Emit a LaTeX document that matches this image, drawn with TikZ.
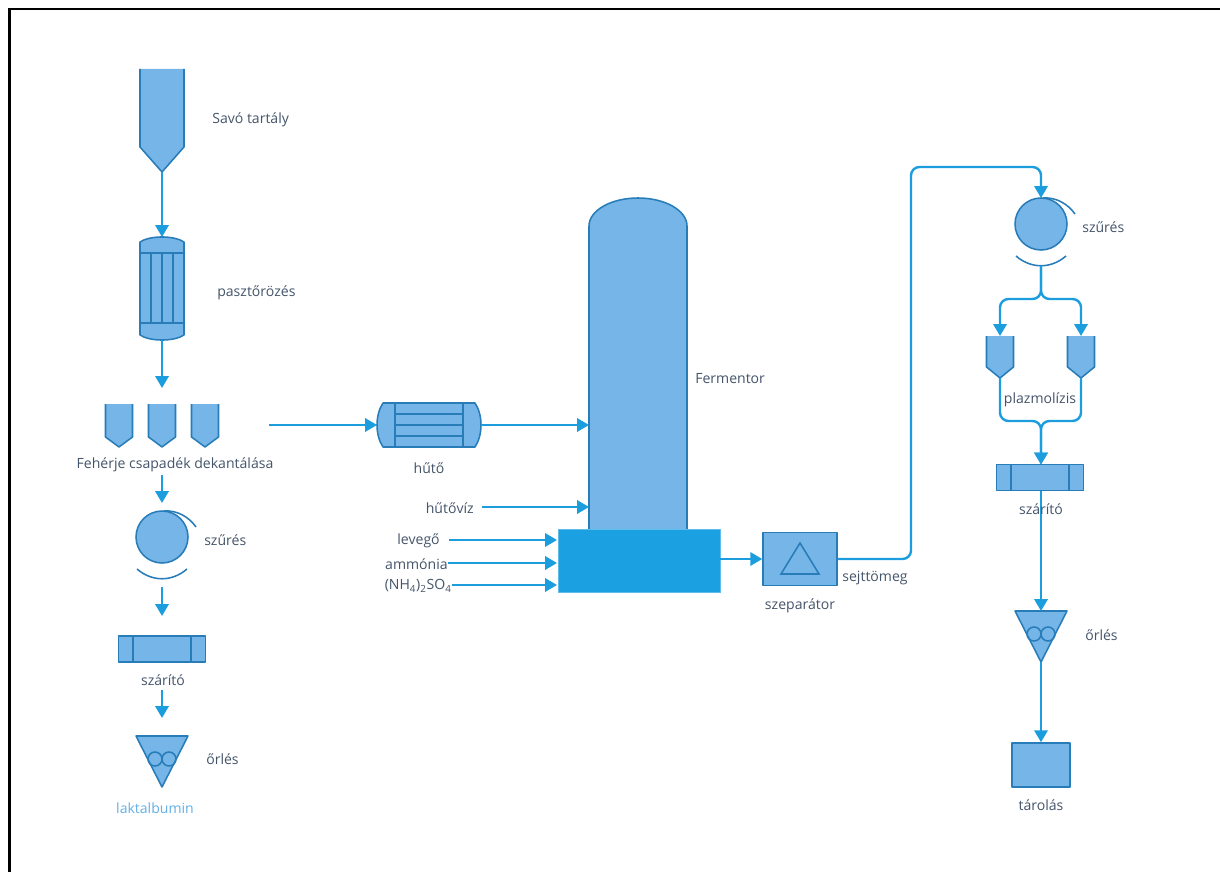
\documentclass[tikz,border=0pt]{standalone}
\usepackage{fontspec}
\usepackage{tikz}
\usetikzlibrary{arrows.meta,positioning}
\setmainfont{Open Sans}
\definecolor{pipe}{RGB}{27,157,222}
\definecolor{vessel}{RGB}{117,181,232}
\definecolor{edge}{RGB}{40,125,185}
\definecolor{deep}{RGB}{27,160,226}
\definecolor{ink}{RGB}{68,84,106}
\tikzset{
  flow/.style={-{Triangle[length=8.5pt,width=9.5pt]},line width=1.7pt,draw=pipe,rounded corners=6pt},
  tag/.style={font=\fontsize{10pt}{12pt}\selectfont,text=ink,inner sep=0pt,align=center},
  part/.style={draw=edge,fill=vessel,line width=1.1pt,line join=round},
  inner/.style={draw=edge,line width=1.1pt},
  % pictograms
  pics/hopper/.style args={#1/#2/#3}{code={
    \fill[vessel] (-#1,0) -- (-#1,#2) -- (0,#3) -- (#1,#2) -- (#1,0) -- cycle;
    \draw[inner,line join=round] (-#1,0) -- (-#1,#2) -- (0,#3) -- (#1,#2) -- (#1,0);
    \coordinate (-in) at (0,0);
    \coordinate (-out) at (0,#3);
  }},
  pics/filter/.style={code={
    \draw[part] (0,0) circle (26);
    \draw[inner] (2,-26) .. controls (15,-27) and (27,-20) .. (34,-10);
    \draw[inner] (-25,32) .. controls (-10,45) and (10,45) .. (25,32);
    \coordinate (-in) at (0,-26);
    \coordinate (-out) at (0,42);
  }},
  pics/dryer/.style={code={
    \node[part,minimum width=87*0.711pt,minimum height=26*0.711pt,inner sep=0pt] (-box) at (0,0) {};
    \draw[inner] (-29,-13) -- (-29,13) (29,-13) -- (29,13);
    \coordinate (-in) at (0,-13);
    \coordinate (-out) at (0,13);
  }},
  pics/mill/.style={code={
    \draw[part] (-26,0) -- (26,0) -- (0,51) -- cycle;
    \draw[inner] (-7,23) circle (7) (7,23) circle (7);
    \coordinate (-in) at (0,0);
    \coordinate (-out) at (0,51);
  }},
}
\begin{document}
\begin{tikzpicture}[x=0.025cm,y=-0.025cm]
  \useasboundingbox (0,0) rectangle (1220,872);
  \draw[black,line width=1.5pt] (9.5,880) -- (9.5,9) -- (1230,9);

  % left column
  \pic (tank) at (162,69) {hopper={22/78/103}};
  \node[tag,anchor=west] (ltank) at (212,120) {Savó tartály};
  \begin{scope}[shift={(162,237)}]
    \draw[part] (-22,5) .. controls (-12,-1.7) and (12,-1.7) .. (22,5) -- (22,98) .. controls (12,104.7) and (-12,104.7) .. (-22,98) -- cycle;
    \draw[inner] (-22,16) -- (22,16) (-22,86) -- (22,86);
    \draw[inner] (-11,16) -- (-11,86) (0,16) -- (0,86) (11,16) -- (11,86);
    \coordinate (past-in) at (0,0);
    \coordinate (past-out) at (0,103);
  \end{scope}
  \node[tag,anchor=west] (lpast) at (217,293) {pasztőrözés};
  \draw[flow] (tank-out) -- (past-in);
  \coordinate (dec-in) at (162,388);
  \draw[flow] (past-out) -- (dec-in);
  \foreach \n/\x in {deca/119,decb/162,decc/205}
    \pic (\n) at (\x,404) {hopper={13.5/33/43}};
  \node[tag] (ldec) at (175,465) {Fehérje csapadék dekantálása};
  \coordinate (dec-out) at (162,475);
  \coordinate (dec-end) at (162,503);
  \draw[flow] (dec-out) -- (dec-end);
  \pic (fa) at (162,537) {filter};
  \node[tag,anchor=west] (lfa) at (204,540) {szűrés};
  \pic (da) at (162,649) {dryer};
  \coordinate (fa-drop) at (162,587);
  \coordinate (fa-end) at (162,616);
  \draw[flow] (fa-drop) -- (fa-end);
  \node[tag] (lda) at (163,680) {szárító};
  \coordinate (da-drop) at (162,690);
  \coordinate (da-end) at (162,718);
  \draw[flow] (da-drop) -- (da-end);
  \pic (ma) at (162,736) {mill};
  \node[tag,anchor=west] (lma) at (206,759) {őrlés};
  \node[tag,text=vessel!80!pipe] (lprod) at (155,808) {laktalbumin};

  % fermentor
  \draw[part] (589,529) -- (589,226) .. controls (589,210.5) and (611,198) .. (638,198) .. controls (665,198) and (687,210.5) .. (687,226) -- (687,529);
  \node[draw=deep!70!white,fill=deep,minimum width=162*0.711pt,minimum height=63*0.711pt,inner sep=0pt,line width=.6pt] (base) at (639,561) {};
  \coordinate (ferm-a) at (589,425);
  \coordinate (ferm-b) at (589,507);
  \node[tag,anchor=west] (lferm) at (695,379) {Fermentor};

  % cooler
  \begin{scope}[shift={(429,425)}]
    \draw[part] (-46,-22) -- (46,-22) .. controls (54,-10) and (54,10) .. (46,22) -- (-46,22) .. controls (-54,10) and (-54,-10) .. (-46,-22) -- cycle;
    \draw[inner] (-34,-22) -- (-34,22) (34,-22) -- (34,22);
    \draw[inner] (-34,-11) -- (34,-11) (-34,0) -- (34,0) (-34,11) -- (34,11);
    \coordinate (cool-in) at (-52,0);
    \coordinate (cool-out) at (52,0);
  \end{scope}
  \node[tag] (lcool) at (429,468) {hűtő};
  \coordinate (dec-feed) at (269,425);
  \draw[flow] (dec-feed) -- (cool-in);
  \draw[flow] (cool-out) -- (ferm-a);
  \node[tag,anchor=east] (lwater) at (474,508) {hűtővíz};
  \coordinate (water-s) at (482,507);
  \draw[flow] (water-s) -- (ferm-b);

  % feeds
  \foreach \n/\t/\y/\x/\s in {air/levegő/540/440/449,amm/ammónia/563/448/448,sulf/(NH\textsubscript{4})\textsubscript{2}SO\textsubscript{4}/585/452/452} {
    \node[tag,anchor=east] (l\n) at (\x,\y+1) {\t};
    \coordinate (\n-s) at (\s,\y);
    \coordinate (\n-e) at (557,\y);
    \draw[flow] (\n-s) -- (\n-e);
  }

  % separator
  \node[part,minimum width=74*0.711pt,minimum height=53*0.711pt,inner sep=0pt] (sep) at (800,559) {};
  \draw[inner] (800,543) -- (781,574) -- (819,574) -- cycle;
  \draw[flow] (base.east |- sep.west) -- (sep.west);
  \node[tag] (lsep) at (800,606) {szeparátor};
  \node[tag] (lmass) at (875,578) {sejttömeg};

  % right column
  \pic (fb) at (1041,224) {filter};
  \draw[flow] (sep.east) -- (911,559) -- (911,167) -- (1041,167) -- (fb-in);
  \node[tag,anchor=west] (lfb) at (1082,227) {szűrés};
  \pic (pa) at (1000,336) {hopper={13.5/31/42}};
  \pic (pb) at (1081,336) {hopper={13.5/31/42}};
  \coordinate (split) at (1041,299);
  \coordinate (join) at (1041,421);
  \draw[flow] (fb-out) -- (split) -- (1000,299) -- (pa-in);
  \draw[flow] (fb-out) -- (split) -- (1081,299) -- (pb-in);
  \pic (db) at (1040,477.5) {dryer};
  \draw[flow] (pa-out) -- (1000,421) -- (join) -- (db-in -| join);
  \draw[flow] (pb-out) -- (1081,421) -- (join) -- (db-in -| join);
  \node[tag] (lplasma) at (1040,400) {plazmolízis};
  \pic (mb) at (1041,611) {mill};
  \draw[flow] (join |- db-out) -- (mb-in);
  \node[tag] (ldb) at (1041,509) {szárító};
  \node[tag,anchor=west] (lmb) at (1085,635) {őrlés};
  \node[part,minimum width=58*0.711pt,minimum height=44*0.711pt,inner sep=0pt] (store) at (1041,765) {};
  \draw[flow] (mb-out) -- (store.north);
  \node[tag] (lstore) at (1041,805) {tárolás};
\end{tikzpicture}
\end{document}
